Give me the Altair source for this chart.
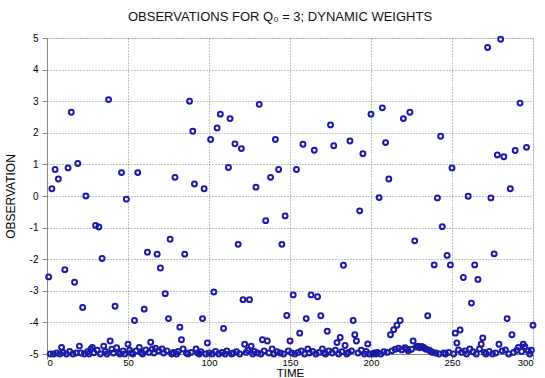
import altair as alt
import pandas as pd

time = list(range(1, 301))
observation = [
    -2.56, -5.0, 0.23, -5.0, 0.84, -4.97, 0.54, -5.0, -4.79, -4.95,
    -2.33, -5.0, 0.89, -4.92, 2.65, -5.0, -2.73, -4.97, 1.03, -4.75,
    -4.97, -3.53, -5.0, 0.0, -4.93, -5.0, -4.85, -4.79, -4.96, -0.93,
    -4.88, -0.98, -5.0, -1.98, -4.75, -4.92, -5.0, 3.05, -4.59, -4.85,
    -4.97, -3.49, -4.80, -4.95, -5.0, 0.74, -4.90, -5.0, -0.10, -4.69,
    -4.88, -4.97, -5.0, -3.94, -4.90, 0.74, -4.79, -4.95, -5.0, -3.58,
    -4.87, -1.78, -4.95, -4.63, -4.85, -4.97, -4.82, -1.84, -4.90, -2.28,
    -4.84, -4.97, -3.09, -4.90, -3.88, -1.37, -5.0, -4.95, 0.59, -5.0,
    -4.92, -4.15, -4.55, -4.84, -1.84, -4.97, -5.0, 3.00, -4.95, 2.05,
    0.38, -4.84, -4.97, -5.0, -4.93, -3.88, 0.23, -5.0, -4.65, -4.97,
    1.79, -5.0, -3.04, -4.92, 2.15, -5.0, 2.59, -4.95, -4.19, -5.0,
    -4.90, 0.90, 2.45, -5.0, -4.97, 1.65, -4.93, -1.53, -5.0, 1.50,
    -3.28, -4.69, -4.95, -4.88, -3.28, -4.75, -5.0, -4.92, 0.28, -4.97,
    2.90, -5.0, -4.55, -4.90, -0.78, -4.59, -4.97, 0.59, -4.84, -5.0,
    1.79, -4.93, 0.84, -4.97, -1.53, -5.0, -0.63, -3.78, -4.90, -4.59,
    -4.97, -3.13, -5.0, 0.84, -4.95, -4.34, -4.90, 1.64, -5.0, -3.88,
    -4.84, -4.97, -3.13, -4.92, 1.45, -5.0, -3.19, -4.95, -3.79, -4.84,
    -4.97, -5.0, -4.28, -4.90, 2.25, -4.97, 1.59, -4.88, -4.64, -5.0,
    -4.48, -4.93, -2.19, -4.73, -5.0, -4.95, 1.74, -4.90, -3.94, -4.39,
    -4.59, -4.97, -0.47, -4.88, 1.34, -5.0, -4.92, -4.68, -5.0, 2.59,
    -5.0, -4.97, -5.0, -4.95, -0.05, -5.0, 2.79, -4.93, 1.69, -4.95,
    0.54, -4.39, -4.90, -4.23, -4.85, -4.09, -4.82, -3.94, -4.87, 2.45,
    -4.80, -4.84, -4.90, 2.65, -4.85, -4.59, -1.42, -4.78, -4.75, -4.80,
    -4.76, -4.78, -4.82, -4.85, -3.79, -4.88, -4.92, -4.95, -2.18, -4.97,
    -0.06, -5.0, 1.89, -0.97, -4.97, -5.0, -1.88, -4.95, -2.18, 0.89,
    -5.0, -4.34, -4.65, -4.87, -4.24, -4.95, -2.58, -4.90, -5.0, -0.01,
    -4.84, -3.39, -4.93, -2.18, -5.0, -2.64, -4.84, -4.69, -4.49, -4.95,
    -5.0, 4.70, -4.92, -0.06, -5.0, -1.83, -4.97, 1.30, -4.69, 4.96,
    -4.90, 1.24, -4.87, -3.88, -5.0, 0.23, -4.39, -4.95, 1.44, -4.88,
    -4.79, 2.94, -4.92, -4.69, -4.77, 1.54, -4.90, -5.0, -4.88, -4.09,
]

x_ticks = [0, 50, 100, 150, 200, 250, 300]
y_ticks = [-5, -4, -3, -2, -1, 0, 1, 2, 3, 4, 5]

df = pd.DataFrame({"TIME": time, "OBSERVATION": observation})

font = "Liberation Sans"
grid_kw = dict(grid=True, gridColor="#888888", gridOpacity=1, gridDash=[1, 2], gridWidth=1)

chart = (
    alt.Chart(df)
    .mark_point(shape="circle", filled=False, size=24, strokeWidth=2, color="#1a1aa6", opacity=1)
    .encode(
        x=alt.X(
            "TIME:Q",
            scale=alt.Scale(domain=[0, 300], nice=False, zero=False),
            axis=alt.Axis(values=x_ticks, title="TIME", labelPadding=-2,
                          titleY=24, titleBaseline="bottom",
                          labelFontSize=9.5, titleFontSize=11.5, titleFontWeight="normal",
                          format="d", **grid_kw),
        ),
        y=alt.Y(
            "OBSERVATION:Q",
            scale=alt.Scale(domain=[-5, 5], nice=False, zero=False),
            axis=alt.Axis(values=y_ticks, title="OBSERVATION", labelPadding=4, titlePadding=12,
                          labelFontSize=10, titleFontSize=12, titleFontWeight="normal",
                          labelExpr="replace(format(datum.value, 'd'), '\u2212', '-')",
                          **grid_kw),
        ),
    )
    .properties(
        width=486,
        height=316,
        title=alt.TitleParams(
            "OBSERVATIONS FOR Q\u2080 = 3; DYNAMIC WEIGHTS",
            fontSize=13, fontWeight="normal", font=font, color="#111", offset=9, dx=-10,
        ),
        autosize=alt.AutoSizeParams(type="none"),
        padding={"left": 47, "top": 38, "right": 12, "bottom": 24},
    )
    .configure_view(stroke="#222", strokeWidth=1)
    .configure_axis(
        ticks=False,
        domainColor="#222",
        labelColor="#222",
        titleColor="#111",
        labelFont=font,
        titleFont=font,
        titleFontWeight="normal",
    )
    .configure(background="white")
)

chart.save("out.html", embed_options={"renderer": "svg", "actions": False})
